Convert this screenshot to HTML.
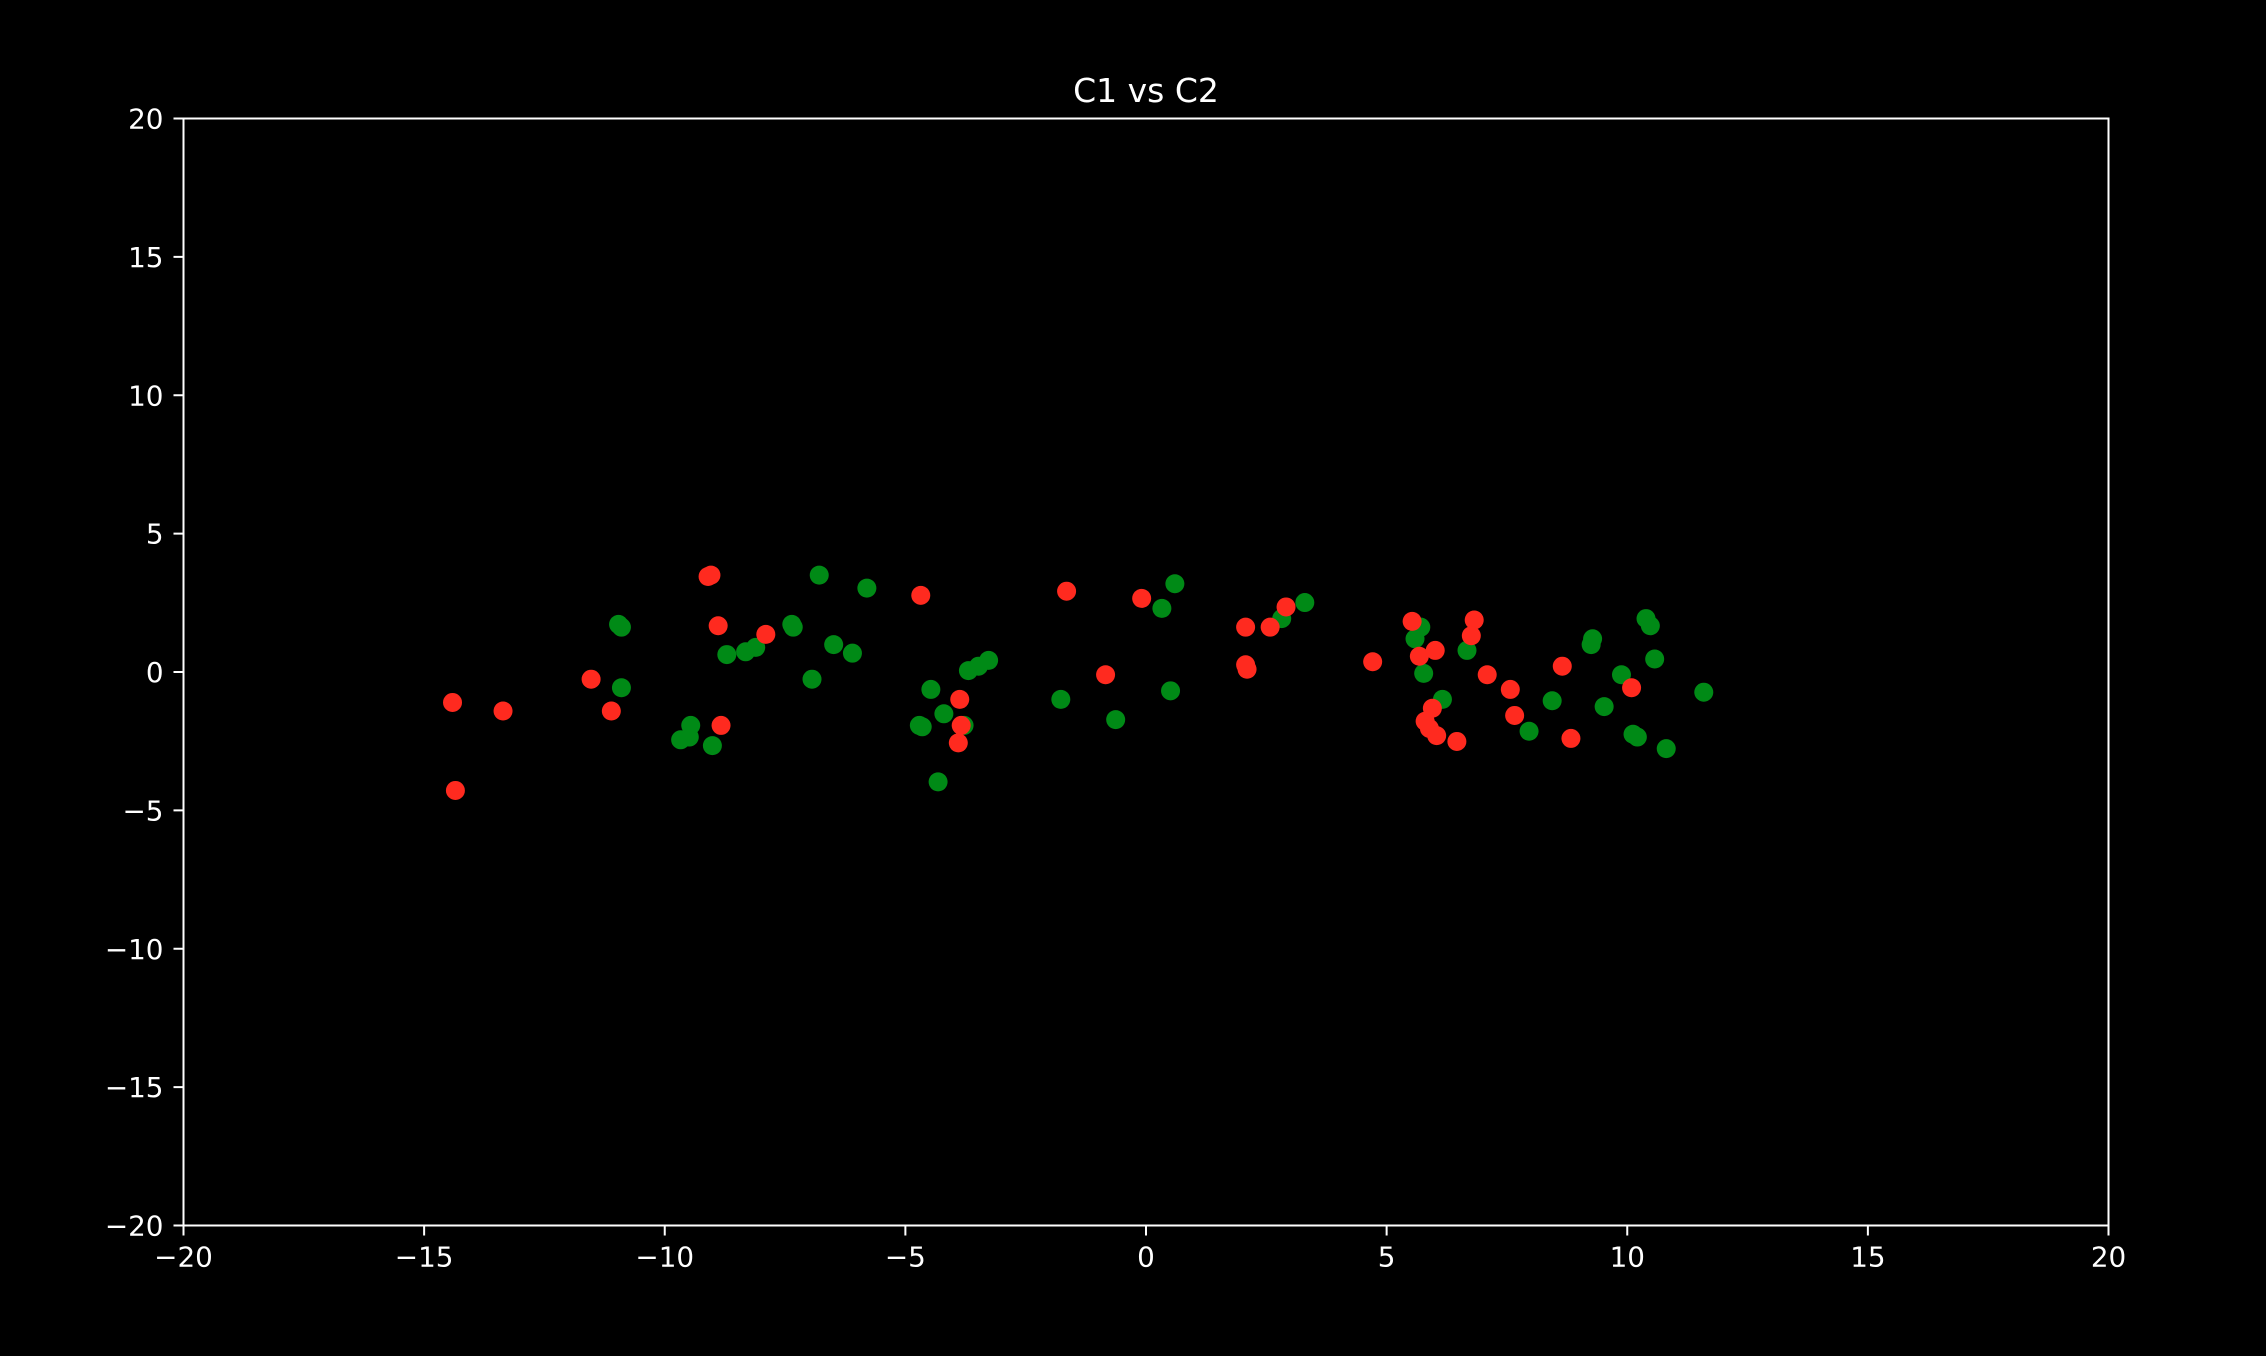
<!DOCTYPE html>
<html><head><meta charset="utf-8"><style>
html,body{margin:0;padding:0;background:#000;}
svg{display:block;}
text{font-family:"DejaVu Sans","Liberation Sans",sans-serif;fill:#fff;}
</style></head><body>
<svg id="chart" width="2266" height="1356" viewBox="0 0 2266 1356">
<rect width="2266" height="1356" fill="#000"/>
<text x="1146" y="102" font-size="33" text-anchor="middle">C1 vs C2</text>
<g id="marks"></g>
<g id="axes"></g>
</svg>
<script>
const xTicks = [-20,-15,-10,-5,0,5,10,15,20];
const yTicks = [-20,-15,-10,-5,0,5,10,15,20];
const greenX = [-10.96,-10.90,-10.90,-9.67,-9.49,-9.46,-9.01,-8.71,-8.32,-8.11,-7.36,-7.33,-6.94,-6.79,-6.49,-6.10,-5.80,-4.71,-4.65,-4.47,-4.32,-4.20,-3.78,-3.69,-3.48,-3.27,-1.77,-0.63,0.33,0.51,0.60,2.82,3.30,5.59,5.71,5.77,6.16,6.67,7.96,8.44,9.25,9.28,9.52,9.88,10.12,10.21,10.39,10.48,10.57,10.81,11.59];
const greenY = [1.72,1.62,-0.57,-2.45,-2.35,-1.93,-2.66,0.63,0.73,0.89,1.72,1.62,-0.26,3.50,0.99,0.68,3.03,-1.93,-1.98,-0.63,-3.97,-1.51,-1.93,0.05,0.21,0.42,-0.99,-1.72,2.30,-0.68,3.19,1.93,2.51,1.20,1.62,-0.05,-0.99,0.78,-2.14,-1.04,0.99,1.20,-1.25,-0.10,-2.25,-2.35,1.93,1.67,0.47,-2.77,-0.73];
const redX = [-14.41,-14.35,-13.36,-11.53,-11.11,-9.10,-9.04,-8.89,-8.83,-7.90,-4.68,-3.87,-3.84,-3.90,-1.65,-0.84,-0.09,2.07,2.07,2.10,2.58,2.91,4.71,5.53,5.68,6.01,6.82,6.76,5.80,5.95,5.89,6.04,6.46,7.09,7.57,7.66,8.65,8.83,10.09];
const redY = [-1.10,-4.28,-1.41,-0.26,-1.41,3.45,3.50,1.67,-1.93,1.36,2.77,-0.99,-1.93,-2.56,2.92,-0.10,2.66,1.62,0.26,0.10,1.62,2.35,0.37,1.83,0.57,0.78,1.88,1.31,-1.78,-1.31,-2.04,-2.30,-2.51,-0.10,-0.63,-1.57,0.21,-2.40,-0.57];

const NS='http://www.w3.org/2000/svg';
const L=183.5,R=2108.5,T=118.5,B=1225.5;
function sx(v){return L+(v+20)/40*(R-L);}
function sy(v){return B-(v+20)/40*(B-T);}
function mk(tag,attrs,parent){const e=document.createElementNS(NS,tag);for(const k in attrs)e.setAttribute(k,attrs[k]);parent.appendChild(e);return e;}
const marks=document.getElementById('marks'), axes=document.getElementById('axes');
greenX.forEach((x,i)=>{
  const c=mk('circle',{cx:sx(x),cy:sy(greenY[i]),r:9.5,fill:'#008a16'},marks);
  
  
});
redX.forEach((x,i)=>{
  const c=mk('circle',{cx:sx(x),cy:sy(redY[i]),r:9.5,fill:'#ff2a1f'},marks);
  
  
});
const frame=mk('rect',{x:L,y:T,width:R-L,height:B-T,fill:'none',stroke:'#fff','stroke-width':2},axes);


xTicks.forEach(v=>{
  const x=sx(v);
  const t=mk('line',{x1:x,x2:x,y1:B,y2:B+10,stroke:'#fff','stroke-width':2},axes);
  
  
  const lb=mk('text',{x:x,y:B+41,'font-size':27.8,'text-anchor':'middle'},axes);
  lb.textContent=v<0?'\u2212'+Math.abs(v):String(v);
  
  
});
yTicks.forEach(v=>{
  const y=sy(v);
  const t=mk('line',{x1:L-10,x2:L,y1:y,y2:y,stroke:'#fff','stroke-width':2},axes);
  
  
  const lb=mk('text',{x:L-20,y:y+10,'font-size':27.8,'text-anchor':'end'},axes);
  lb.textContent=v<0?'\u2212'+Math.abs(v):String(v);
  
  
});
</script>
</body></html>
